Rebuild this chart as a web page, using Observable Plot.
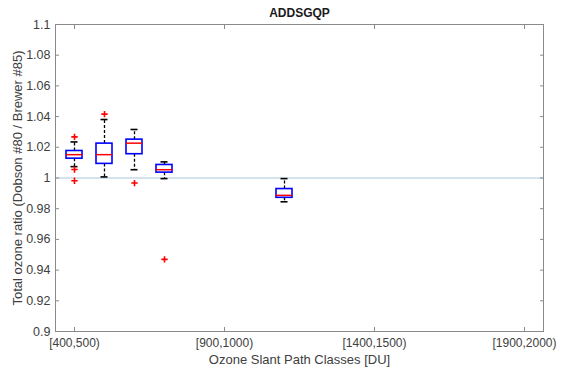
<!DOCTYPE html>
<html>
<head>
<meta charset="utf-8">
<script src="https://cdn.jsdelivr.net/npm/d3@7"></script>
<script src="https://cdn.jsdelivr.net/npm/@observablehq/plot@0.6"></script>
<style>
  html, body { margin: 0; padding: 0; background: #fff; }
</style>
</head>
<body>
<div id="chart"></div>
<script>
// Slant path classes (x categories)
const classes = ["[400,500)","[500,600)","[600,700)","[700,800)","[800,900)","[900,1000)","[1000,1100)","[1100,1200)","[1200,1300)","[1300,1400)","[1400,1500)","[1500,1600)","[1600,1700)","[1700,1800)","[1800,1900)","[1900,2000)"];
const xTickLabels = ["[400,500)","[900,1000)","[1400,1500)","[1900,2000)"];
const yTickValues = [0.9,0.92,0.94,0.96,0.98,1,1.02,1.04,1.06,1.08,1.1];
const titleText = "ADDSGQP";
const xLabel = "Ozone Slant Path Classes [DU]";
const yLabel = "Total ozone ratio (Dobson #80 / Brewer #85)";

// Box statistics per class
const boxClass    = ["[400,500)","[500,600)","[600,700)","[700,800)","[1100,1200)"];
const q1          = [1.0126, 1.0092, 1.0155, 1.0035, 0.9871];
const median      = [1.0152, 1.0152, 1.0227, 1.0054, 0.9887];
const q3          = [1.0176, 1.0224, 1.0250, 1.0085, 0.9928];
const whiskerLow  = [1.0074, 1.0007, 1.0054, 0.9996, 0.9845];
const whiskerHigh = [1.0235, 1.0381, 1.0316, 1.0105, 0.9996];

// Outliers
const outlierClass = ["[400,500)","[400,500)","[400,500)","[500,600)","[600,700)","[700,800)"];
const outlierValue = [1.0268, 1.0055, 0.9982, 1.0416, 0.9967, 0.9470];

const boxes = boxClass.map((c, i) => ({cls: c, q1: q1[i], median: median[i], q3: q3[i], lo: whiskerLow[i], hi: whiskerHigh[i]}));
const outliers = outlierClass.map((c, i) => ({cls: c, v: outlierValue[i]}));

const axisColor = "#8a8a8a";
const textColor = "#404040";
const fmt = d => String(+d.toFixed(2));

const chart = Plot.plot({
  width: 561,
  height: 371,
  marginLeft: 55,
  marginRight: 18,
  marginTop: 24,
  marginBottom: 40,
  style: {fontFamily: "'Liberation Sans', Arial, sans-serif", fontSize: "12px", color: textColor, background: "#fff"},
  x: {type: "band", domain: classes, paddingInner: 0.46, paddingOuter: 0.23},
  y: {domain: [0.9, 1.1]},
  marks: [
    Plot.ruleY([1], {stroke: "#a6c8dc", strokeWidth: 1}),
    Plot.frame({stroke: axisColor}),
    // tick labels
    Plot.axisX({ticks: xTickLabels, tickSize: 0, tickPadding: 7, fontSize: 12, fill: textColor, label: null}),
    Plot.axisY({ticks: yTickValues, tickSize: 0, tickPadding: 5, tickFormat: fmt, fontSize: 12.5, fill: textColor, label: null}),
    // inward ticks
    Plot.axisX({ticks: xTickLabels, tickSize: 4, dy: -4, tickFormat: () => "", label: null, stroke: axisColor}),
    Plot.axisX({anchor: "top", ticks: xTickLabels, tickSize: 4, dy: 4, tickFormat: () => "", label: null, stroke: axisColor}),
    Plot.axisY({ticks: yTickValues, tickSize: 4, dx: 4, tickFormat: () => "", label: null, stroke: axisColor}),
    Plot.axisY({anchor: "right", ticks: yTickValues, tickSize: 4, dx: -4, tickFormat: () => "", label: null, stroke: axisColor}),
    // axis labels
    Plot.text([xLabel], {frameAnchor: "bottom", dy: 28, text: d => d, fontSize: 13, fill: textColor, lineAnchor: "middle"}),
    Plot.text([yLabel], {frameAnchor: "left", dx: -38, rotate: -90, text: d => d, fontSize: 13, fill: textColor, lineAnchor: "middle", textAnchor: "middle"}),
    // whiskers
    Plot.ruleX(boxes, {x: "cls", y1: "q3", y2: "hi", stroke: "#000", strokeWidth: 1.3, strokeDasharray: "3,2"}),
    Plot.ruleX(boxes, {x: "cls", y1: "q1", y2: "lo", stroke: "#000", strokeWidth: 1.3, strokeDasharray: "3,2"}),
    Plot.tickY(boxes, {x: "cls", y: "hi", stroke: "#000", strokeWidth: 1.6, inset: 4.5}),
    Plot.tickY(boxes, {x: "cls", y: "lo", stroke: "#000", strokeWidth: 1.6, inset: 4.5}),
    // boxes
    Plot.barY(boxes, {x: "cls", y1: "q1", y2: "q3", fill: "none", stroke: "#0000ff", strokeWidth: 1.6}),
    Plot.tickY(boxes, {x: "cls", y: "median", stroke: "#ff0000", strokeWidth: 1.5}),
    // outliers
    Plot.dot(outliers, {x: "cls", y: "v", symbol: "plus", r: 2.2, stroke: "#ff0000", strokeWidth: 1.6}),
    // title
    Plot.text([titleText], {frameAnchor: "top", dy: -11, text: d => d, fontWeight: "bold", fontSize: 12, fill: "#1a1a1a", lineAnchor: "middle"})
  ]
});

document.getElementById("chart").appendChild(chart);
</script>
</body>
</html>
